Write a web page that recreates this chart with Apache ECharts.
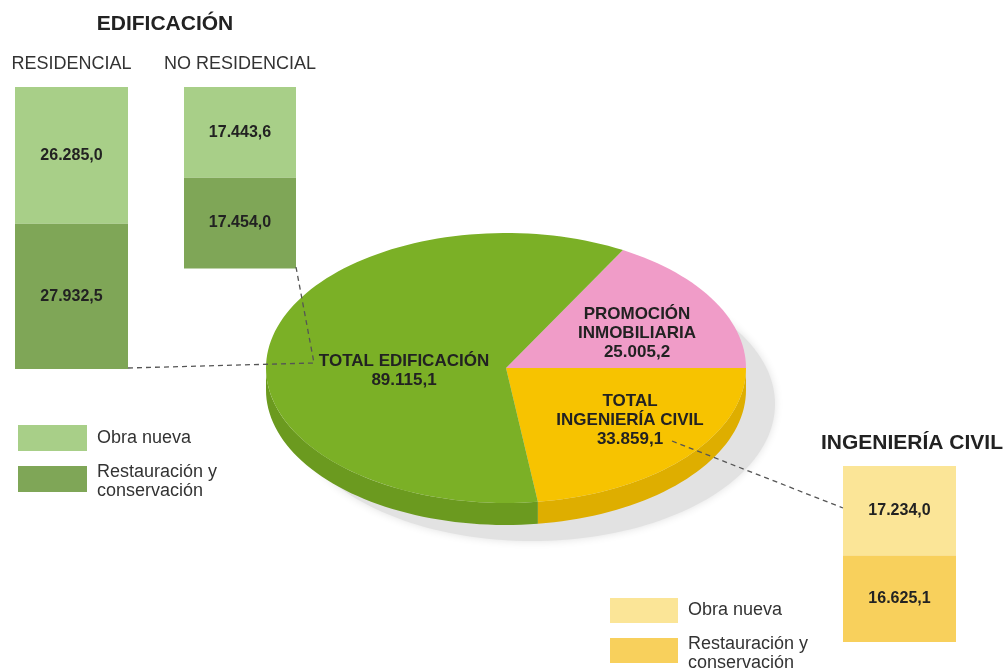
<!DOCTYPE html>
<html>
<head>
<meta charset="utf-8">
<script src="https://cdn.jsdelivr.net/npm/echarts@6/dist/echarts.min.js"></script>
<style>
html, body { margin: 0; padding: 0; background: #fff; }
#main { width: 1007px; height: 671px; }
</style>
</head>
<body>
<div id="main"></div>
<script>
// valores (millones de euros)
var edifCategories = ['RESIDENCIAL', 'NO RESIDENCIAL'];
var edifObraNueva = [26285.0, 17443.6];
var edifRestauracion = [27932.5, 17454.0];

var civilCategories = ['INGENIERÍA CIVIL'];
var civilObraNueva = [17234.0];
var civilRestauracion = [16625.1];

var pieNames = ['PROMOCIÓN\nINMOBILIARIA', 'TOTAL\nINGENIERÍA CIVIL', 'TOTAL EDIFICACIÓN'];
var pieValues = [25005.2, 33859.1, 89115.1];

var legendNames = ['Obra nueva', 'Restauración y\nconservación'];

var FONT = '"Liberation Sans", Arial, sans-serif';
var PX_PER_UNIT = 0.0052;
// misma escala en las tres columnas
var axisMax = [60000, 60000, 38000];

var greenLight = '#a8cf88', greenDark = '#7fa657';
var yellowLight = '#fbe597', yellowDark = '#f8d05c';
var pieColors = ['#f09cc8', '#f7c300', '#7bb026'];
var pieSideColors = ['#d27fab', '#deae00', '#6b9a1f'];

var PIE = { cx: 506, cy: 368, rx: 240, ry: 135, depth: 22 };
var pieTotal = pieValues.reduce(function (a, b) { return a + b; }, 0);
// la frontera promoción / ingeniería queda horizontal
var pieStart = pieValues[0] / pieTotal * 360;

function fmt(v) {
  var parts = v.toFixed(1).split('.');
  return parts[0].replace(/\B(?=(\d{3})+(?!\d))/g, '.') + ',' + parts[1];
}

function ellPt(deg, dy, c) {
  c = c || PIE;
  var r = deg * Math.PI / 180;
  return [c.cx + c.rx * Math.cos(r), c.cy - c.ry * Math.sin(r) + (dy || 0)];
}
function arcPts(a0, a1, dy, c) {
  var pts = [], n = Math.max(2, Math.ceil(Math.abs(a0 - a1) / 2));
  for (var k = 0; k <= n; k++) pts.push(ellPt(a0 + (a1 - a0) * k / n, dy, c));
  return pts;
}

var chart = echarts.init(document.getElementById('main'));

var grids = [
  { left: 15, top: 87, width: 113, height: axisMax[0] * PX_PER_UNIT },
  { left: 184, top: 87, width: 112, height: axisMax[1] * PX_PER_UNIT },
  { left: 843, top: 466, width: 113, height: axisMax[2] * PX_PER_UNIT }
];
var allCats = edifCategories.concat(civilCategories);

var xAxes = [], yAxes = [], series = [];
grids.forEach(function (g, i) {
  xAxes.push({
    type: 'category', gridIndex: i, position: 'top', data: [allCats[i]],
    axisLine: { show: false }, axisTick: { show: false },
    axisLabel: { show: i < 2, fontFamily: FONT, fontSize: 18, color: '#333', margin: 14 }
  });
  yAxes.push({ type: 'value', gridIndex: i, inverse: true, min: 0, max: axisMax[i], show: false });
});

var barLabel = {
  show: true, position: 'inside', fontFamily: FONT, fontSize: 16, fontWeight: 'bold', color: '#222',
  formatter: function (p) { return fmt(p.value); }
};

function addBars(i, nueva, rest, cLight, cDark) {
  series.push({
    name: legendNames[0], type: 'bar', stack: 's' + i, xAxisIndex: i, yAxisIndex: i,
    barWidth: '100%', data: [nueva], itemStyle: { color: cLight }, label: barLabel, silent: true
  });
  series.push({
    name: legendNames[1], type: 'bar', stack: 's' + i, xAxisIndex: i, yAxisIndex: i,
    barWidth: '100%', data: [rest], itemStyle: { color: cDark }, label: barLabel, silent: true
  });
}
addBars(0, edifObraNueva[0], edifRestauracion[0], greenLight, greenDark);
addBars(1, edifObraNueva[1], edifRestauracion[1], greenLight, greenDark);
addBars(2, civilObraNueva[0], civilRestauracion[0], yellowLight, yellowDark);

// tarta elíptica con canto
series.push({
  type: 'custom', coordinateSystem: 'none', z: 5, silent: true,
  data: pieValues,
  renderItem: function (params, api) {
    var i = params.dataIndex;
    var before = 0;
    for (var j = 0; j < i; j++) before += pieValues[j];
    var a0 = pieStart - before / pieTotal * 360;
    var a1 = a0 - api.value(0) / pieTotal * 360;
    var children = [];
    for (var k = -1; k <= 1; k++) {
      var lo = Math.max(a1, -180 + 360 * k), hi = Math.min(a0, 360 * k);
      if (hi > lo) {
        var top = arcPts(hi, lo, 0), bot = arcPts(hi, lo, PIE.depth).reverse();
        children.push({ type: 'polygon', shape: { points: top.concat(bot) }, style: { fill: pieSideColors[i] } });
      }
    }
    var face = [[PIE.cx, PIE.cy]].concat(arcPts(a0, a1, 0));
    children.push({ type: 'polygon', shape: { points: face }, style: { fill: pieColors[i] } });
    return { type: 'group', children: children };
  }
});

var shadowEll = { cx: 532, cy: 404, rx: 243, ry: 137 };

var labelStyle = function (txt, x, y, size) {
  return {
    type: 'text', x: x, y: y, z: 20, silent: true,
    style: {
      text: txt, fontFamily: FONT, fontSize: size, fontWeight: 'bold', fill: '#222',
      align: 'center', verticalAlign: 'middle', lineHeight: 19
    }
  };
};
var plainText = function (txt, x, y) {
  return {
    type: 'text', x: x, y: y, z: 20, silent: true,
    style: { text: txt, fontFamily: FONT, fontSize: 18, fill: '#333', align: 'left', verticalAlign: 'middle', lineHeight: 19 }
  };
};
var dashed = function (pts) {
  return {
    type: 'polyline', z: 15, silent: true, shape: { points: pts },
    style: { stroke: '#555', lineWidth: 1.3, lineDash: [5, 4], fill: null }
  };
};
var swatch = function (x, y, w, h, c) {
  return { type: 'rect', z: 20, silent: true, shape: { x: x, y: y, width: w, height: h }, style: { fill: c } };
};

var graphics = [
  {
    type: 'polygon', z: 0, silent: true,
    shape: { points: arcPts(0, 360, 0, shadowEll) },
    style: { fill: '#e2e2e2', shadowBlur: 8, shadowColor: 'rgba(0,0,0,0.12)' }
  },
  labelStyle('EDIFICACIÓN', 165, 24, 21),
  labelStyle('INGENIERÍA CIVIL', 912, 443, 21),
  labelStyle(pieNames[2] + '\n' + fmt(pieValues[2]), 404, 371, 17),
  labelStyle(pieNames[0] + '\n' + fmt(pieValues[0]), 637, 333, 17),
  labelStyle(pieNames[1] + '\n' + fmt(pieValues[1]), 630, 420, 17),
  dashed([[128, 368], [314, 363]]),
  dashed([[296, 267], [314, 363]]),
  dashed([[672, 441], [843, 508]]),
  swatch(18, 425, 69, 26, greenLight),
  swatch(18, 466, 69, 26, greenDark),
  plainText(legendNames[0], 97, 438),
  plainText(legendNames[1], 97, 482),
  swatch(610, 598, 68, 25, yellowLight),
  swatch(610, 638, 68, 25, yellowDark),
  plainText(legendNames[0], 688, 610),
  plainText(legendNames[1], 688, 654)
];

chart.setOption({
  backgroundColor: '#fff',
  animation: false,
  grid: grids,
  xAxis: xAxes,
  yAxis: yAxes,
  series: series,
  graphic: graphics
});
</script>
</body>
</html>
